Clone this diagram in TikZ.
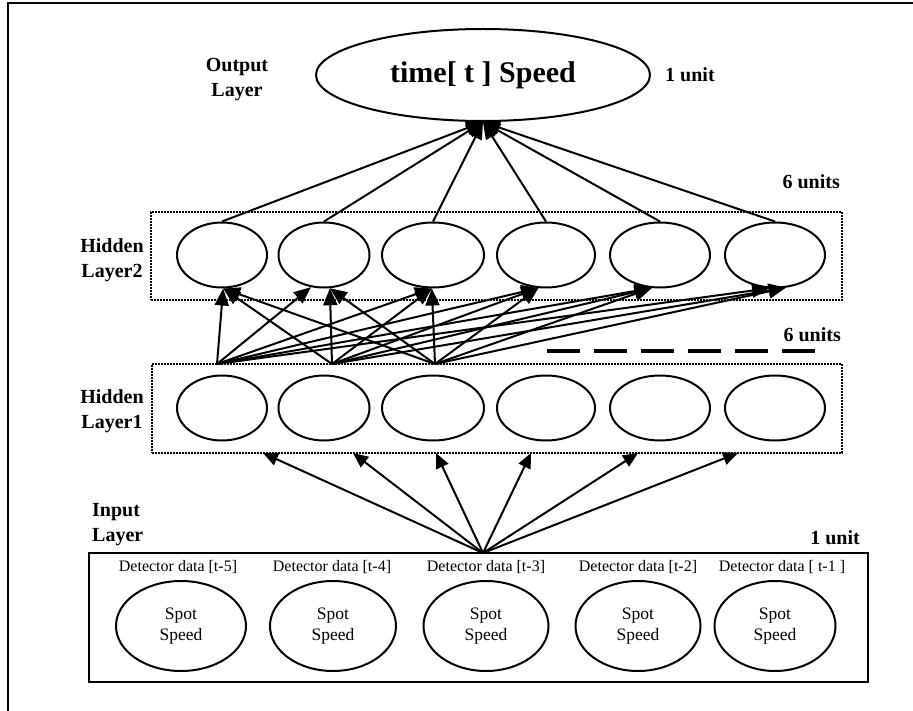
\documentclass[tikz,border=0pt]{standalone}
\usepackage{fontspec}
\setmainfont{Liberation Serif}
\usetikzlibrary{arrows.meta,shapes.geometric}

\begin{document}
\begin{tikzpicture}[x=1pt,y=-1pt,
  unitnode/.style={ellipse,draw,line width=2pt,inner sep=0pt,minimum height=65pt},
  spotnode/.style={ellipse,draw,line width=2pt,inner sep=0pt,minimum height=90pt,
    align=center,font=\fontsize{17.5}{21}\selectfont},
  layerbox/.style={draw,dash pattern=on 1.6pt off 1.4pt,line width=2pt,inner sep=0pt},
  lbl/.style={font=\fontsize{20}{25}\selectfont\bfseries,inner sep=0pt},
  det/.style={font=\fontsize{16}{19}\selectfont,inner sep=0pt},
  wire/.style={line width=2pt,-{Triangle[length=17pt,width=14pt]}},
  inwire/.style={line width=2pt,-{Triangle[length=15pt,width=13pt]}},
]
\useasboundingbox (0,0) rectangle (913,711);

% page frame (top and left rules)
\draw[line width=1.5pt] (913,3) -- (8,3) -- (8,711);

% output layer
\node[ellipse,draw,line width=2pt,inner sep=0pt,minimum width=334pt,minimum height=92pt,
  font=\fontsize{30}{36}\selectfont\bfseries] (out) at (483,75) {time[ t ] Speed};
\node[lbl,align=center] (outlbl) at (237,80) {Output\\Layer};
\node[lbl,anchor=west] (outunit) at (665,75) {1 unit};

% hidden layer boxes
\node[layerbox,minimum width=691pt,minimum height=88pt] (box2) at (496.5,256) {};
\node[layerbox,minimum width=690pt,minimum height=89pt] (box1) at (497,408.5) {};
\node[lbl,anchor=east] (units2) at (840,182) {6 units};
\node[lbl,anchor=east] (units1) at (841,335) {6 units};
\draw[line width=4.5pt,dash pattern=on 33pt off 14pt] (547,351) -- (816,351);
\node[lbl,align=center] (hl2) at (112,260) {Hidden\\Layer2};
\node[lbl,align=center] (hl1) at (112,411) {Hidden\\Layer1};

% hidden units
\foreach \n/\x/\w in {1/222/90,2/324/91,3/433/102,4/546/98,5/660/100,6/775/100} {
  \node[unitnode,minimum width=\w pt] (h\n) at (\x,255) {};
  \node[unitnode,minimum width=\w pt] (g\n) at (\x,408) {};
}

% input layer
\node[draw,line width=2pt,inner sep=0pt,minimum width=779pt,minimum height=129pt] (inbox) at (478.5,617.5) {};
\node[lbl,align=left,anchor=west] (inlbl) at (92,525) {Input\\Layer};
\node[lbl,anchor=east] (inunit) at (860,538) {1 unit};
\node[det] (d1) at (178,567) {Detector data [t-5]};
\node[det] (d2) at (332,567) {Detector data [t-4]};
\node[det] (d3) at (486,567) {Detector data [t-3]};
\node[det] (d4) at (638,567) {Detector data [t-2]};
\node[det] (d5) at (782,567) {Detector data [ t-1 ]};
\node[spotnode,minimum width=130pt] (i1) at (181,626) {Spot\\Speed};
\node[spotnode,minimum width=126pt] (i2) at (333,626) {Spot\\Speed};
\node[spotnode,minimum width=125pt] (i3) at (486,626) {Spot\\Speed};
\node[spotnode,minimum width=125pt] (i4) at (638,626) {Spot\\Speed};
\node[spotnode,minimum width=121pt] (i5) at (775,626) {Spot\\Speed};

% input fan to hidden layer 1
\coordinate (p) at (483,553);
\foreach \k/\x in {1/263,2/353,3/436,4/531,5/638,6/738}
  \coordinate (b\k) at (\x,453);
\foreach \k in {1,...,6}
  \draw[inwire] (p) -- (b\k);

% hidden layer 1 to hidden layer 2
\coordinate (a1) at (217,364);
\coordinate (a2) at (332,364);
\coordinate (a3) at (435,364);
\foreach \s in {a1,a2,a3} {
  \draw[wire] (\s) -- (h1.-88);
  \draw[wire] (\s) -- (h3.-92);
  \draw[wire] (\s) -- (h4.-103);
  \draw[wire] (\s) -- (h5.-104);
}
\draw[wire] (a1) -- (h2.-112);
\draw[wire] (a2) -- (h2.-80);
\draw[wire] (a3) -- (h2.-80);
\draw[wire] (a1) -- (h6.-100);
\draw[wire] (a2) -- (h6.-72);
\draw[wire] (a3) -- (h6.-72);

% hidden layer 2 to output
\foreach \k in {1,...,6}
  \draw[wire] (h\k.north) -- (out.south);
\end{tikzpicture}
\end{document}
